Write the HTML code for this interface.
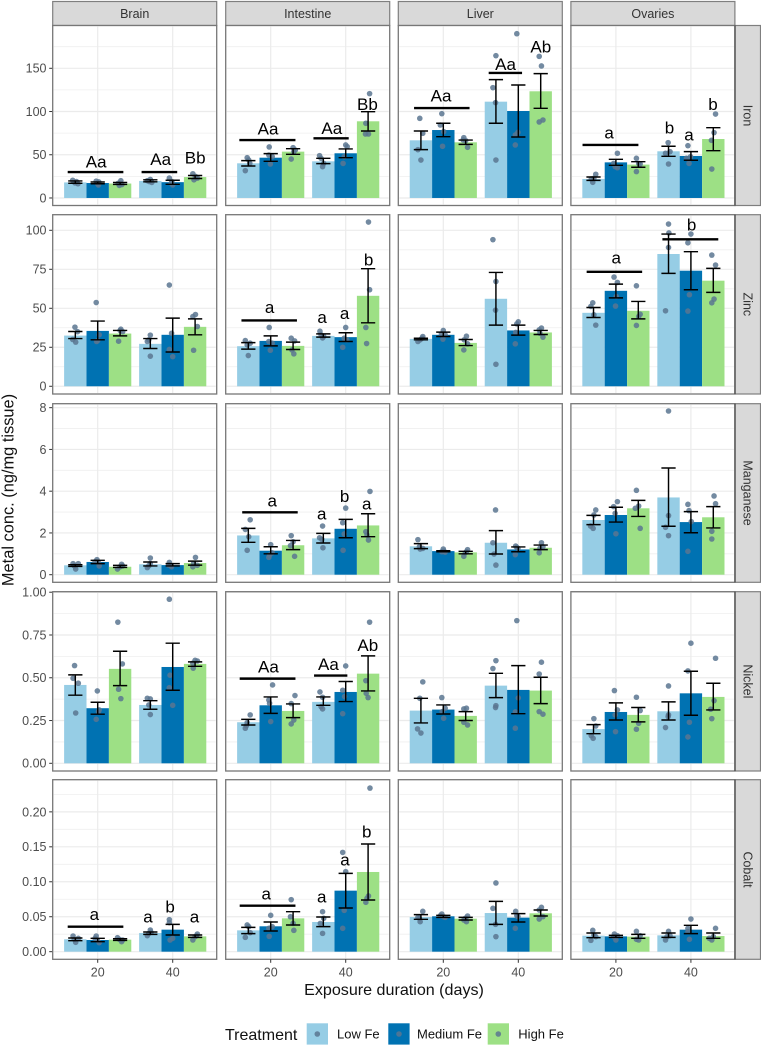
<!DOCTYPE html>
<html lang="en">
<head>
<meta charset="utf-8">
<title>Metal concentration by tissue, metal and exposure duration</title>
<style>
html,body{margin:0;padding:0;background:#fff;}
svg{display:block;font-family:"Liberation Sans",sans-serif;}
</style>
</head>
<body>
<svg id="chart" xmlns="http://www.w3.org/2000/svg" width="761" height="1046" viewBox="0 0 761 1046">
  <rect x="0" y="0" width="761" height="1046" fill="#ffffff"/>
  <g id="panels"></g>
  <text x="394" y="995" font-size="16.1" text-anchor="middle" fill="#111">Exposure duration (days)</text>
  <text transform="translate(13.5,490) rotate(-90)" font-size="16.4" text-anchor="middle" fill="#111">Metal conc. (ng/mg tissue)</text>
  <g>
    <text x="225" y="1040" font-size="16" fill="#111">Treatment</text>
    <g>
      <rect x="306.7" y="1023.3" width="21.3" height="21.3" fill="#96cde5"/>
      <circle cx="317.3" cy="1034" r="2.8" fill="#5a7590" fill-opacity="0.85"/>
      <text x="337" y="1038.5" font-size="13" fill="#111">Low Fe</text>
    </g>
    <g>
      <rect x="388.3" y="1023.3" width="21.3" height="21.3" fill="#0072b2"/>
      <circle cx="399" cy="1034" r="2.8" fill="#5a7590" fill-opacity="0.85"/>
      <text x="417" y="1038.5" font-size="13" fill="#111">Medium Fe</text>
    </g>
    <g>
      <rect x="487.7" y="1023.3" width="21.3" height="21.3" fill="#9de085"/>
      <circle cx="498.3" cy="1034" r="2.8" fill="#5a7590" fill-opacity="0.85"/>
      <text x="518.3" y="1038.5" font-size="13" fill="#111">High Fe</text>
    </g>
  </g>
</svg>
<script>
const tissues = ["Brain", "Intestine", "Liver", "Ovaries"];
const metals = ["Iron", "Zinc", "Manganese", "Nickel", "Cobalt"];
const days = [20, 40];
const treatments = ["low-fe", "medium-fe", "high-fe"];
const yTicks = [
  [0, 50, 100, 150],
  [0, 25, 50, 75, 100],
  [0, 2, 4, 6, 8],
  [0, 0.25, 0.5, 0.75, 1],
  [0, 0.05, 0.1, 0.15, 0.2]
];
const yTickLabels = [
  ["0", "50", "100", "150"],
  ["0", "25", "50", "75", "100"],
  ["0", "2", "4", "6", "8"],
  ["0.00", "0.25", "0.50", "0.75", "1.00"],
  ["0.00", "0.05", "0.10", "0.15", "0.20"]
];
const xTickLabels = ["20", "40"];
const yDomains = [[-8.7, 199.5], [-4.95, 110], [-0.364, 8.19], [-0.045, 1.003], [-0.0109, 0.246]];
const xDomain = [8, 51.73];

// Bar heights: [metal][tissue][20d low, med, high, 40d low, med, high]
const means = [
  [[18, 17.3, 16.7, 19.7, 18.3, 24.2], [40.1, 46.6, 53.6, 42.4, 51.7, 88.7], [66.7, 78.6, 64.4, 111.4, 100.6, 123.4], [22, 41.2, 38.6, 54, 48.6, 68.2]],
  [[32.5, 35.5, 33.8, 27.2, 33, 38.1], [25.7, 29.1, 25.9, 32.3, 31.5, 58], [30.4, 33, 27.8, 56.1, 35.8, 34.5], [47.1, 61.2, 48.4, 84.8, 74.1, 67.7]],
  [[0.45, 0.61, 0.38, 0.5, 0.46, 0.56], [1.88, 1.15, 1.41, 1.74, 2.2, 2.36], [1.36, 1.13, 1.07, 1.53, 1.21, 1.29], [2.62, 2.86, 3.18, 3.7, 2.52, 2.75]],
  [[0.458, 0.322, 0.552, 0.341, 0.563, 0.581], [0.24, 0.339, 0.306, 0.359, 0.417, 0.524], [0.308, 0.314, 0.277, 0.454, 0.429, 0.425], [0.2, 0.3, 0.283, 0.304, 0.409, 0.388]],
  [[0.0177, 0.0167, 0.0172, 0.0267, 0.0315, 0.0219], [0.0305, 0.0363, 0.0477, 0.0425, 0.0873, 0.114], [0.0496, 0.0506, 0.0472, 0.0553, 0.0487, 0.0549], [0.0229, 0.0219, 0.0215, 0.0234, 0.0315, 0.0224]]
];
const errLow = [
  [[17, 16.5, 15.7, 18.7, 15.8, 22.5], [37, 42.4, 50.5, 39.7, 46.6, 77.5], [55.9, 70.9, 62, 86.4, 70.5, 103.7], [20.4, 37.8, 35.5, 48.2, 43.6, 54.7]],
  [[30.6, 29.8, 32.3, 24.2, 22, 33], [23.8, 25.9, 23.6, 31.5, 28.7, 40.7], [29.8, 31.9, 26.1, 39.2, 32.8, 33.2], [44.1, 56.7, 43.2, 72.4, 61.9, 60.2]],
  [[0.4, 0.53, 0.35, 0.42, 0.42, 0.46], [1.55, 1, 1.2, 1.52, 1.77, 1.82], [1.25, 1.1, 1, 0.99, 1.1, 1.2], [2.4, 2.52, 2.79, 2.32, 2.01, 2.24]],
  [[0.398, 0.287, 0.454, 0.316, 0.427, 0.567], [0.224, 0.292, 0.267, 0.339, 0.361, 0.423], [0.236, 0.288, 0.25, 0.384, 0.29, 0.349], [0.173, 0.253, 0.242, 0.253, 0.281, 0.312]],
  [[0.0157, 0.0143, 0.0162, 0.0248, 0.0239, 0.0205], [0.0258, 0.0296, 0.0382, 0.0358, 0.0625, 0.0739], [0.0463, 0.0491, 0.0453, 0.0391, 0.0425, 0.051], [0.02, 0.0205, 0.0191, 0.0205, 0.0258, 0.0191]]
];
const errHigh = [
  [[19.7, 18.5, 18, 21, 20.5, 26], [43.2, 51.3, 57, 45.9, 56.7, 99.8], [77.5, 86.4, 67, 136.9, 130.7, 143.8], [24.3, 44.7, 42, 59.8, 53.6, 81.3]],
  [[35.1, 41.8, 35.8, 30.6, 43.7, 43.2], [28, 32.3, 28.3, 33.6, 34.3, 75.4], [30.8, 34.7, 30, 73, 39.2, 35.8], [50.5, 65.5, 54.4, 97.6, 86.3, 75.6]],
  [[0.48, 0.69, 0.45, 0.61, 0.53, 0.65], [2.22, 1.34, 1.64, 1.98, 2.65, 2.92], [1.49, 1.15, 1.12, 2.11, 1.33, 1.42], [2.84, 3.23, 3.56, 5.11, 3.02, 3.26]],
  [[0.517, 0.357, 0.655, 0.366, 0.702, 0.593], [0.257, 0.388, 0.347, 0.388, 0.478, 0.628], [0.38, 0.341, 0.302, 0.526, 0.571, 0.503], [0.226, 0.353, 0.326, 0.359, 0.538, 0.468]],
  [[0.0196, 0.0191, 0.0186, 0.0281, 0.0391, 0.0239], [0.0348, 0.0425, 0.0572, 0.0496, 0.112, 0.154], [0.053, 0.052, 0.0491, 0.072, 0.0544, 0.0596], [0.0267, 0.0234, 0.0248, 0.0267, 0.0377, 0.0267]]
];

// Observations: [metal][tissue][bar] = [[jitter in days, value], ...]
const points = [
  [ // Iron
    [
      [[-.7,20.5],[.3,19],[-.1,17.5],[.7,16.5]],
      [[-.4,19.5],[.3,18.5],[0,16.5],[.2,15]],
      [[.2,20],[-.5,17],[.5,15.5],[-.2,14.5]],
      [[0,21.5],[-.8,20],[-.3,19],[.4,18]],
      [[-.9,23],[-.2,19],[-.4,17],[0,15]],
      [[-.6,28],[.1,25],[.6,23],[-.3,21]]
    ],
    [
      [[-.3,46.6],[-.8,31.6],[.1,44],[.4,40]],
      [[-.4,59],[-.1,39.3],[.4,47.8],[-.5,49.7]],
      [[0,58.2],[-.5,45],[.6,55.5],[.2,53.6]],
      [[-1,49],[-.2,36.2],[-.6,45.9],[.1,40]],
      [[0,61.3],[-.7,40],[-.4,47.8],[.4,59.4]],
      [[.4,120.7],[-.6,86.4],[-.7,74],[.1,74]]
    ],
    [
      [[-.3,92.1],[.5,74.8],[-.8,55.9],[0,43.9]],
      [[-.4,97.5],[-.2,59.8],[.1,76.7],[-.8,84.4]],
      [[-.5,69.8],[0,66.3],[.5,58.6],[-.7,67]],
      [[0,164.6],[-.8,127.6],[-.1,110.3],[0,43.9]],
      [[-.4,190],[-.1,75.9],[-.8,72.9],[-.8,61.3]],
      [[-.4,163.8],[.2,152.7],[.6,90.2],[-.4,87.9]]
    ],
    [
      [[.6,27.4],[-.2,18.1],[-.6,22],[.1,22.7]],
      [[.4,51.7],[-.2,36.2],[.4,35],[-.6,40]],
      [[-.5,45.9],[-.5,30.5],[.1,40],[.5,39.3]],
      [[-.1,64],[0,39.3],[-.8,51.7],[.4,53.6]],
      [[-.8,60.5],[-.5,40],[-.1,47.8],[-1.2,45.9]],
      [[.6,97.1],[.2,75.6],[-.5,66.7],[-.4,33.5]]
    ]
  ],
  [ // Zinc
    [
      [[-.1,37.9],[.6,35],[-.7,30],[.1,28.3]],
      [[-.4,53.7],[0,29.3],[.4,33],[-.3,28.7]],
      [[.2,36.6],[-.4,28.9],[.7,35],[0,35.8]],
      [[0,32.8],[-.8,28.7],[0,19.3],[-.4,29.8]],
      [[-.9,64.9],[-.9,23.6],[0,19],[-.3,34]],
      [[-.6,44.7],[.1,46],[.6,38.3],[-.4,23.1]]
    ],
    [
      [[-.8,29.3],[0,19.7],[-.3,26.5],[.5,27.6]],
      [[-.4,37.7],[-.1,23.1],[.4,27.6],[-.5,28.7]],
      [[-.5,30.8],[.4,29.1],[.2,20.8],[-.3,23.3]],
      [[-.9,35.3],[-.2,31],[-.6,33],[.1,31.9]],
      [[0,37.7],[-.8,25],[-.4,30.8],[.3,29.8]],
      [[.1,105.3],[.4,61.9],[-.6,37.7],[-.4,27.4]]
    ],
    [
      [[.5,31.9],[-.8,28.7],[-.2,29.8],[.3,30.8]],
      [[0,35.8],[-.1,30.2],[.5,33],[-.5,33.6]],
      [[.2,32.1],[-.5,23.3],[.5,27.2],[-.4,29.8]],
      [[-.8,94],[0,67.2],[-.1,48.8],[0,14.1]],
      [[0,41.3],[-.4,40],[-.8,27.2],[-.7,34.5]],
      [[.2,37.3],[-.4,36.2],[.6,31.5],[-.2,34]]
    ],
    [
      [[-.2,53.5],[-.7,51.2],[.6,39.2],[.1,45.8]],
      [[-.5,70],[.4,66.6],[-.1,51.4],[.1,57.6]],
      [[-.5,64.4],[.5,46.2],[-.5,39],[.1,44.7]],
      [[0,104],[0,89],[-.8,48.4],[.1,98.3]],
      [[0,97.6],[-.8,92],[-.4,58.7],[-.8,48.2]],
      [[-.4,84.1],[.6,77.7],[.2,55.9],[-.4,53.5]]
    ]
  ],
  [ // Manganese
    [
      [[-.6,.53],[.8,.53],[.1,.27],[-.3,.43]],
      [[-.2,.72],[.4,.42],[-.7,.62],[.2,.57]],
      [[.4,.5],[-.7,.27],[0,.38],[.7,.42]],
      [[0,.8],[-.8,.34],[0,.54],[-.4,.43]],
      [[-.9,.59],[-.3,.38],[-1.1,.46],[-.5,.43]],
      [[.1,.83],[-.6,.38],[.6,.45],[-.4,.54]]
    ],
    [
      [[.5,2.63],[-.8,2.17],[-.3,1.17],[.1,1.82]],
      [[0,1.44],[.4,1.05],[-.5,.83],[-.3,.94]],
      [[-.5,1.87],[-.7,1.39],[.4,.88],[0,1.58]],
      [[-.2,2.33],[-1,1.77],[-.1,1.29],[-.4,1.69]],
      [[0,3.19],[-.8,2.49],[-.4,1.95],[-.7,1.17]],
      [[.5,3.99],[-.6,2.06],[.1,1.66],[-.3,1.9]]
    ],
    [
      [[-.8,1.68],[-.2,1.23],[.5,1.26],[-.4,1.34]],
      [[0,1.23],[-.4,1.1],[.5,1.08],[.1,1.13]],
      [[.5,1.2],[-.5,.88],[-.1,1.05],[.2,1.1]],
      [[-.1,3.1],[-.8,1.53],[0,.46],[-.5,.99]],
      [[-.7,1.37],[-.8,.96],[-.1,1.26],[-.4,1.31]],
      [[.2,1.53],[-.4,1.05],[.6,1.34],[-.2,1.26]]
    ],
    [
      [[.6,3.1],[.1,2.86],[-.8,2.33],[-.1,2.22]],
      [[.4,3.5],[-.6,3.26],[0,1.96],[-.2,2.94]],
      [[-.5,4.04],[.1,3.29],[-.8,3.18],[.5,2.22]],
      [[0,7.84],[0,2.83],[-.8,2.27],[0,1.87]],
      [[-.8,3.37],[-.5,3.07],[.1,2.54],[-.8,1.12]],
      [[.2,3.77],[.6,3.4],[-.4,2.08],[-.4,1.71]]
    ]
  ],
  [ // Nickel
    [
      [[-.2,.571],[-.6,.497],[.8,.468],[.1,.294]],
      [[-.1,.423],[.4,.312],[-.4,.257],[.2,.302]],
      [[-.6,.825],[.6,.581],[-.4,.433],[.2,.378]],
      [[-.8,.38],[0,.376],[0,.285],[-.4,.341]],
      [[-.9,.959],[-.7,.515],[-.9,.442],[0,.339]],
      [[0,.602],[.6,.598],[-.5,.556],[-.6,.585]]
    ],
    [
      [[.5,.283],[-.3,.238],[-.8,.205],[-.5,.22]],
      [[.5,.458],[-.5,.37],[0,.244],[-.3,.351]],
      [[.5,.396],[-.5,.349],[.2,.253],[-.5,.23]],
      [[-.9,.417],[-.2,.386],[-.2,.318],[-.6,.331]],
      [[0,.569],[-.8,.427],[-.3,.39],[-.8,.29]],
      [[.4,.825],[-.6,.483],[-.5,.409],[0,.384]]
    ],
    [
      [[.5,.476],[-.3,.38],[-.9,.201],[0,.177]],
      [[-.4,.384],[.5,.322],[.1,.263],[-.3,.302]],
      [[-.5,.318],[.2,.322],[-.5,.24],[.5,.224]],
      [[0,.6],[-.8,.554],[0,.337],[-.1,.326]],
      [[-.4,.834],[0,.382],[-.8,.3],[-.8,.205]],
      [[.2,.591],[-.4,.522],[-.4,.302],[.6,.287]]
    ],
    [
      [[.1,.261],[.6,.218],[-.6,.162],[-.1,.146]],
      [[-.4,.425],[.4,.312],[-.1,.185],[-.2,.283]],
      [[-.5,.386],[.5,.308],[.1,.234],[-.5,.199]],
      [[0,.452],[-.8,.209],[0,.283],[-.1,.273]],
      [[0,.702],[-.8,.54],[-.4,.24],[-.8,.154]],
      [[.6,.614],[.2,.366],[-.7,.316],[-.4,.261]]
    ]
  ],
  [ // Cobalt
    [
      [[-.6,.0224],[.8,.0191],[.1,.0134],[-.3,.0177]],
      [[-.4,.0224],[.4,.0129],[-.1,.0167],[-.7,.0191]],
      [[-.7,.02],[.4,.0143],[-.2,.0177],[.7,.0167]],
      [[0,.031],[-.8,.0229],[-.4,.0262],[.2,.0277]],
      [[-.9,.0458],[-.9,.0415],[0,.0191],[-.7,.0167]],
      [[.6,.0253],[-.6,.0167],[0,.0215],[.4,.0229]]
    ],
    [
      [[-.3,.0382],[-.8,.0205],[.1,.0358],[.5,.0272]],
      [[0,.052],[-.4,.0219],[.4,.0358],[-.5,.0334]],
      [[-.5,.0744],[-.7,.05],[.2,.0305],[0,.0405]],
      [[-.2,.0572],[-.2,.0262],[-.8,.0405],[.1,.0477]],
      [[-.8,.142],[0,.1145],[-.4,.0591],[-.8,.0334]],
      [[.5,.234],[.1,.0797],[-.6,.0706],[-.3,.0763]]
    ],
    [
      [[.5,.0577],[-.8,.0491],[-.2,.0429],[-.4,.0477]],
      [[-.4,.0539],[0,.0501],[.5,.0491],[-.8,.0515]],
      [[.5,.051],[-.5,.0453],[.2,.0429],[-.1,.0477]],
      [[0,.0983],[-.8,.062],[-.1,.0391],[0,.0215]],
      [[-.7,.0577],[-.1,.0501],[-.8,.0334],[-.4,.0515]],
      [[.2,.0634],[-.4,.0596],[.6,.0501],[-.4,.0467]]
    ],
    [
      [[-.2,.0305],[.6,.0215],[-.7,.0162],[.1,.0239]],
      [[-.4,.0253],[0,.0167],[.4,.0229],[-.6,.0215]],
      [[-.5,.0291],[-.5,.0177],[.1,.0167],[.5,.0229]],
      [[0,.0291],[-.8,.0167],[.4,.0229],[-.4,.0215]],
      [[0,.0467],[-.8,.0286],[-.4,.0177],[-.8,.0334]],
      [[.6,.0334],[-.4,.0167],[0,.0215],[-1.1,.0191]]
    ]
  ]
];

// Significance brackets: metal index, tissue index, from day, to day, value
const sigBars = [
  [0,0,12,26.84,30],[0,0,31.7,41.2,30],
  [0,1,11.64,26.6,67],[0,1,31.4,40.8,69],
  [0,2,12.2,27,104],[0,2,32.1,41,144.6],
  [0,3,11.1,26,61.3],
  [1,1,12.2,27,42.2],
  [1,3,12.2,27,73.4],[1,3,32.4,47.3,94.2],
  [2,1,12.4,27.2,2.99],
  [3,1,11.73,26.6,0.495],[3,1,31.56,40.44,0.513],
  [4,0,12,26.84,0.0358],
  [4,1,11.73,26.6,0.0658]
];
// Significance letters: metal index, tissue index, text, day, value
const sigLabels = [
  [0,0,"Aa",19.6,35.5],[0,0,"Aa",36.8,38],[0,0,"Bb",46,40],
  [0,1,"Aa",19.3,73.6],[0,1,"Aa",36.3,74],[0,1,"Bb",45.8,101.8],
  [0,2,"Aa",19.4,111.4],[0,2,"Aa",36.6,148],[0,2,"Ab",46,168.5],
  [0,3,"a",18.2,68.6],[0,3,"b",34.3,74.8],[0,3,"a",39.5,66.7],[0,3,"b",45.9,101.8],
  [1,1,"a",19.7,46.9],[1,1,"a",33.7,40.5],[1,1,"a",39.7,43],[1,1,"b",46.1,77.5],
  [1,3,"a",20.1,78.6],[1,3,"b",40.2,100],
  [2,1,"a",20.4,3.27],[2,1,"a",33.6,2.65],[2,1,"b",39.7,3.47],[2,1,"a",45.6,3.13],
  [3,1,"Aa",19.4,0.53],[3,1,"Aa",35.4,0.546],[3,1,"Ab",45.9,0.657],
  [4,0,"a",19.1,0.0453],[4,0,"a",33.4,0.0415],[4,0,"b",39.3,0.0558],[4,0,"a",45.8,0.042],
  [4,1,"a",18.8,0.0749],[4,1,"a",33.6,0.0706],[4,1,"a",39.8,0.123],[4,1,"b",45.6,0.163]
];

const SVGNS = "http://www.w3.org/2000/svg";
const root = document.getElementById("panels");
const colLeft = [52.7, 225.7, 398.3, 570.9];
const panelWidth = 164;
const rowTop = [25.5, 214.7, 403.7, 591.7, 779.7];
const rowBottom = [205.5, 394, 582.3, 771, 959.3];
const barColors = ["#96cde5", "#0072b2", "#9de085"];
const dodgeDays = 5.97;

function xScale(col, day) {
  return colLeft[col] + (day - xDomain[0]) / (xDomain[1] - xDomain[0]) * panelWidth;
}
function yScale(row, v) {
  const d = yDomains[row];
  return rowBottom[row] - (v - d[0]) / (d[1] - d[0]) * (rowBottom[row] - rowTop[row]);
}
function svgEl(tag, attrs, parent) {
  const el = document.createElementNS(SVGNS, tag);
  for (const k in attrs) el.setAttribute(k, attrs[k]);
  parent.appendChild(el);
  return el;
}

tissues.forEach(function (tissue, c) {
  const strip = svgEl("rect", { x: colLeft[c], y: 1.5, width: panelWidth, height: 24, fill: "#d9d9d9", stroke: "#7f7f7f", "stroke-width": 1.2 }, root);
  
  
  const label = svgEl("text", { x: colLeft[c] + panelWidth / 2, y: 18, "font-size": 12.5, "text-anchor": "middle", fill: "#333" }, root);
  
  
  label.textContent = tissue;
});

metals.forEach(function (metal, r) {
  const top = rowTop[r], bottom = rowBottom[r];
  const strip = svgEl("rect", { x: 735, y: top, width: 25.5, height: bottom - top, fill: "#d9d9d9", stroke: "#7f7f7f", "stroke-width": 1.2 }, root);
  
  
  const cy = (top + bottom) / 2;
  const label = svgEl("text", { transform: "translate(743.5," + cy + ") rotate(90)", "font-size": 12.5, "text-anchor": "middle", fill: "#333" }, root);
  
  
  label.textContent = metal;

  yTicks[r].forEach(function (t, i) {
    const y = yScale(r, t);
    const tick = svgEl("line", { x1: 49.2, x2: 52.7, y1: y, y2: y, stroke: "#333", "stroke-width": 1 }, root);
    
    
    const txt = svgEl("text", { x: 46.5, y: y + 4.4, "font-size": 12.5, "text-anchor": "end", fill: "#4d4d4d" }, root);
    
    
    txt.textContent = yTickLabels[r][i];
  });

  tissues.forEach(function (tissue, c) {
    const left = colLeft[c], right = left + panelWidth;
    const panel = svgEl("g", {}, root);
    
    
    const bg = svgEl("rect", { x: left, y: top, width: panelWidth, height: bottom - top, fill: "#fff" }, panel);
    
    

    const ticks = yTicks[r];
    const step = ticks[1] - ticks[0];
    for (let k = -1; k < ticks.length; k++) {
      const m = ticks[0] + (k + 0.5) * step;
      if (m <= yDomains[r][0] || m >= yDomains[r][1]) continue;
      const gm = svgEl("line", { x1: left + 1, x2: right - 1, y1: yScale(r, m), y2: yScale(r, m), stroke: "#efefef", "stroke-width": 0.8 }, panel);
      
      
    }
    ticks.forEach(function (t) {
      const g = svgEl("line", { x1: left + 1, x2: right - 1, y1: yScale(r, t), y2: yScale(r, t), stroke: "#ebebeb", "stroke-width": 1.2 }, panel);
      
      
    });
    days.forEach(function (d) {
      const g = svgEl("line", { x1: xScale(c, d), x2: xScale(c, d), y1: top + 1, y2: bottom - 1, stroke: "#ebebeb", "stroke-width": 1.2 }, panel);
      
      
    });

    const barCenter = function (b) {
      const day = days[Math.floor(b / 3)];
      return day + (b % 3 - 1) * dodgeDays;
    };

    means[r][c].forEach(function (v, b) {
      const cDay = barCenter(b);
      const x0 = xScale(c, cDay - dodgeDays / 2), x1 = xScale(c, cDay + dodgeDays / 2);
      const y = yScale(r, v), y0 = yScale(r, 0);
      const bar = svgEl("rect", { x: x0, y: y, width: x1 - x0, height: y0 - y, fill: barColors[b % 3] }, panel);
      
      
    });

    points[r][c].forEach(function (group, b) {
      const cDay = barCenter(b);
      group.forEach(function (p) {
        const dot = svgEl("circle", { cx: xScale(c, cDay + p[0]), cy: yScale(r, p[1]), r: 2.8, fill: "#5a7590", "fill-opacity": 0.85 }, panel);
        
        
      });
    });

    means[r][c].forEach(function (v, b) {
      const cDay = barCenter(b);
      const cx = xScale(c, cDay);
      const capHalf = (xScale(c, cDay + 1.9) - cx);
      const yl = yScale(r, errLow[r][c][b]), yh = yScale(r, errHigh[r][c][b]);
      const err = svgEl("path", {
        d: "M" + (cx - capHalf) + " " + yh + "H" + (cx + capHalf) + "M" + cx + " " + yh + "V" + yl + "M" + (cx - capHalf) + " " + yl + "H" + (cx + capHalf),
        fill: "none", stroke: "#000", "stroke-width": 1.45
      }, panel);
      
      
    });

    sigBars.forEach(function (s) {
      if (s[0] !== r || s[1] !== c) return;
      const line = svgEl("line", { x1: xScale(c, s[2]), x2: xScale(c, s[3]), y1: yScale(r, s[4]), y2: yScale(r, s[4]), stroke: "#000", "stroke-width": 2.4 }, panel);
      
      
    });
    sigLabels.forEach(function (s) {
      if (s[0] !== r || s[1] !== c) return;
      const t = svgEl("text", { x: xScale(c, s[3]), y: yScale(r, s[4]), "font-size": 17, "text-anchor": "middle", fill: "#000" }, panel);
      
      
      t.textContent = s[2];
    });

    const border = svgEl("rect", { x: left, y: top, width: panelWidth, height: bottom - top, fill: "none", stroke: "#777", "stroke-width": 1.3 }, panel);
    
    

    if (r === metals.length - 1) {
      days.forEach(function (d, i) {
        const tk = svgEl("line", { x1: xScale(c, d), x2: xScale(c, d), y1: bottom, y2: bottom + 3.5, stroke: "#333", "stroke-width": 1 }, root);
        
        
        const tl = svgEl("text", { x: xScale(c, d), y: 976.5, "font-size": 12.5, "text-anchor": "middle", fill: "#4d4d4d" }, root);
        
        
        tl.textContent = xTickLabels[i];
      });
    }
  });

  const divider = svgEl("line", { x1: 735, x2: 735, y1: top, y2: bottom, stroke: "#444", "stroke-width": 1.2 }, root);
  
  
});
</script>
</body>
</html>
